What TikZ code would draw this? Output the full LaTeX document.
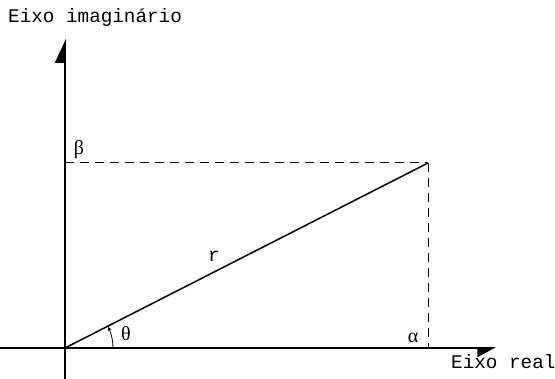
\documentclass[tikz,border=0pt]{standalone}
\usepackage{fontspec}
\setmonofont{Liberation Mono}
\newfontfamily\greekfont{Liberation Serif}
\usetikzlibrary{arrows.meta}
\tikzset{
  axis/.style={line width=1.6pt},
  guide/.style={line width=1pt, dash pattern=on 9pt off 6pt},
  vec/.style={line width=1.5pt},
  axlabel/.style={font=\ttfamily\fontsize{19.3}{21}\selectfont, inner sep=0pt},
  glabel/.style={font=\greekfont\fontsize{20}{21}\selectfont, inner sep=0pt},
  upharpoon/.style={-{Triangle[harpoon,length=22pt,width=20pt]}},
  rightharpoon/.style={-{Triangle[harpoon,swap,length=17pt,width=18pt]}}
}
\begin{document}
\begin{tikzpicture}[x=1pt,y=-1pt]
\useasboundingbox (0,0) rectangle (555,379);
\coordinate (O) at (65,348);
\coordinate (P) at (428,163);
\coordinate (B) at (65,163);
\coordinate (A) at (428,348);
\coordinate (ytop) at (65,39);
\coordinate (ybot) at (65,379);
\coordinate (xleft) at (0,348);
\coordinate (xright) at (496,348);
\draw[axis, upharpoon] (ybot) -- (ytop);
\draw[axis, rightharpoon] (xleft) -- (xright);
\draw[guide] (B) -- (P);
\draw[guide] (P) -- (A);
\draw[vec] (O) -- (P);
\draw[line width=0.8pt, -{Stealth[length=4pt,width=4pt]}] ([xshift=48pt]O) arc[start angle=0, end angle=26, radius=48pt];
\node[axlabel, anchor=west] (ylab) at (8,18) {Eixo imaginário};
\node[axlabel, anchor=west] (xlab) at (451,362) {Eixo real};
\node[glabel] (beta) at (79,150) {β};
\node[glabel] (alpha) at (413,338) {α};
\node[glabel] (theta) at (126,334) {θ};
\node[axlabel] (r) at (214,256) {r};
\end{tikzpicture}
\end{document}
